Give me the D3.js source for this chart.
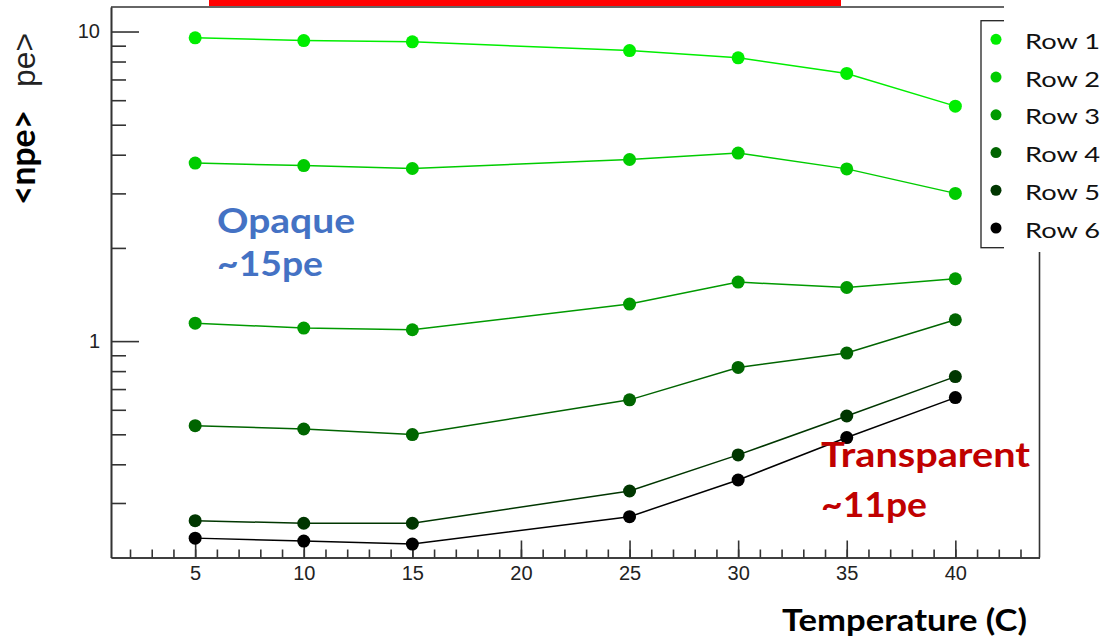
<!DOCTYPE html>
<html>
<head>
<meta charset="utf-8">
<script src="https://cdn.jsdelivr.net/npm/d3@7"></script>
<style>
  body { margin: 0; background: #fff; }
  svg { display: block; }
</style>
</head>
<body>
<script>
//Width and height
var w = 1106;
var h = 639;

//Data
var temps = [5, 10, 15, 25, 30, 35, 40];
var row1 = [9.54, 9.35, 9.26, 8.68, 8.22, 7.32, 5.74];
var row2 = [3.76, 3.69, 3.61, 3.86, 4.05, 3.60, 3.00];
var row3 = [1.143, 1.102, 1.088, 1.317, 1.551, 1.490, 1.590];
var row4 = [0.533, 0.520, 0.499, 0.646, 0.822, 0.915, 1.172];
var row5 = [0.263, 0.258, 0.258, 0.328, 0.429, 0.573, 0.768];
var row6 = [0.231, 0.226, 0.221, 0.271, 0.356, 0.488, 0.657];
var rowNames = ["Row 1", "Row 2", "Row 3", "Row 4", "Row 5", "Row 6"];
var xTickLabels = [5, 10, 15, 20, 25, 30, 35, 40];
var yTickLabels = [1, 10];

//Colours, one per row
var rowColors = ["#00ee00", "#00cc00", "#009a00", "#006400", "#003600", "#000000"];

var rows = [row1, row2, row3, row4, row5, row6].map(function(vals, i) {
  return {
    name: rowNames[i],
    values: temps.map(function(t, j) { return { t: t, v: vals[j] }; })
  };
});

//Scales
var xScale = d3.scaleLinear().domain([1.125, 43.875]).range([111, 1039.5]);
var yScale = d3.scaleLog().domain([0.2, 12]).range([557.5, 7]);
var color = d3.scaleOrdinal().domain(rowNames).range(rowColors);

var svg = d3.select("body")
  .append("svg")
  .attr("width", w)
  .attr("height", h);

//Red strip at the top of the slide
svg.append("rect")
  .attr("x", 209).attr("y", 0)
  .attr("width", 632).attr("height", 6)
  .attr("fill", "#ff0000");

var axisColor = "#333";
var tickFont = "'Liberation Sans', Arial, sans-serif";

//X axis: minor ticks, then labelled major ticks
var xMinor = d3.axisBottom(xScale)
  .tickValues(d3.range(2, 44))
  .tickSize(-8)
  .tickSizeOuter(0)
  .tickFormat("");
var xMajor = d3.axisBottom(xScale)
  .tickValues(xTickLabels)
  .tickSize(-17)
  .tickSizeOuter(0)
  .tickPadding(8)
  .tickFormat(d3.format("d"));

var gx = svg.append("g").attr("transform", "translate(0," + yScale.range()[0] + ")");
gx.append("g").call(xMinor);
gx.append("g").call(xMajor);

//Y axis (log): minor ticks, then labelled decades
var yMinorVals = [0.3, 0.4, 0.5, 0.6, 0.7, 0.8, 0.9, 2, 3, 4, 5, 6, 7, 8, 9];
var yMinor = d3.axisLeft(yScale)
  .tickValues(yMinorVals)
  .tickSize(-15)
  .tickSizeOuter(0)
  .tickFormat("");
var yMajor = d3.axisLeft(yScale)
  .tickValues(yTickLabels)
  .tickSize(-28)
  .tickSizeOuter(0)
  .tickPadding(11)
  .tickFormat(d3.format("d"));

var gy = svg.append("g").attr("transform", "translate(" + xScale.range()[0] + ",0)");
gy.append("g").call(yMinor);
gy.append("g").call(yMajor);

svg.selectAll(".domain, .tick line")
  .attr("stroke", axisColor)
  .attr("stroke-width", 1.6);
svg.selectAll(".tick text")
  .attr("fill", "#222")
  .attr("font-family", tickFont)
  .attr("font-size", 20);

//Frame top and right
svg.append("line")
  .attr("x1", xScale.range()[0]).attr("x2", xScale.range()[1])
  .attr("y1", yScale.range()[1]).attr("y2", yScale.range()[1])
  .attr("stroke", axisColor).attr("stroke-width", 1.6);
svg.append("line")
  .attr("x1", xScale.range()[1]).attr("x2", xScale.range()[1])
  .attr("y1", yScale.range()[0]).attr("y2", yScale.range()[1])
  .attr("stroke", axisColor).attr("stroke-width", 1.6);

//Line generator
var line = d3.line()
  .x(function(d) { return xScale(d.t); })
  .y(function(d) { return yScale(d.v); });

var series = svg.selectAll(".series")
  .data(rows)
  .enter()
  .append("g")
  .attr("class", "series");

series.append("path")
  .attr("d", function(d) { return line(d.values); })
  .attr("fill", "none")
  .attr("stroke", function(d) { return color(d.name); })
  .attr("stroke-width", 1.5);

series.selectAll("circle")
  .data(function(d) { return d.values.map(function(p) { return { t: p.t, v: p.v, name: d.name }; }); })
  .enter()
  .append("circle")
  .attr("cx", function(d) { return xScale(d.t); })
  .attr("cy", function(d) { return yScale(d.v); })
  .attr("r", 6.5)
  .attr("fill", function(d) { return color(d.name); });

//Legend box (its right side is hidden by the slide's text box)
svg.append("rect")
  .attr("x", 981).attr("y", 20.7)
  .attr("width", 200).attr("height", 227)
  .attr("fill", "#fff")
  .attr("stroke", "#222").attr("stroke-width", 1.3);
svg.append("rect")
  .attr("x", 1004).attr("y", 0)
  .attr("width", 102).attr("height", 252)
  .attr("fill", "#fff");

var legendY = d3.scaleLinear().domain([0, rowNames.length - 1]).range([39.3, 228]);
var slideFont = "Lato, 'Open Sans', sans-serif";

var legend = svg.selectAll(".legend")
  .data(rowNames)
  .enter()
  .append("g")
  .attr("class", "legend")
  .attr("transform", function(d, i) { return "translate(0," + legendY(i) + ")"; });

legend.append("circle")
  .attr("cx", 996)
  .attr("r", 5.5)
  .attr("fill", function(d) { return color(d); });

legend.append("text")
  .attr("x", 1025)
  .attr("y", 9.7)
  .attr("fill", "#111")
  .attr("textLength", 75)
  .attr("lengthAdjust", "spacingAndGlyphs")
  .style("font-family", slideFont)
  .style("font-size", "22px")
  .text(function(d) { return d; });

//Slide texts
function slideText(txt, x, y, size, width, fill) {
  return svg.append("text")
    .attr("x", x).attr("y", y)
    .attr("fill", fill)
    .attr("textLength", width)
    .attr("lengthAdjust", "spacingAndGlyphs")
    .style("font-family", slideFont)
    .style("font-weight", "bold")
    .style("font-size", size + "px")
    .text(txt);
}

slideText("Temperature (C)", 782, 631, 31, 245, "#000");
slideText("Opaque", 217, 233, 34, 138, "#4472C4");
slideText("~15pe", 217, 276, 34, 106, "#4472C4");
slideText("Transparent", 821, 467, 35, 209, "#C00000");
slideText("~11pe", 821, 517, 35, 106, "#C00000");

//Y title, rotated
svg.append("text")
  .attr("transform", "translate(35,205) rotate(-90)")
  .attr("textLength", 95)
  .attr("lengthAdjust", "spacingAndGlyphs")
  .attr("fill", "#000")
  .style("font-family", slideFont)
  .style("font-weight", "bold")
  .style("font-size", "35px")
  .text("<npe>");

svg.append("text")
  .attr("transform", "translate(35,87) rotate(-90)")
  .attr("textLength", 54)
  .attr("lengthAdjust", "spacingAndGlyphs")
  .attr("fill", "#222")
  .style("font-family", tickFont)
  .style("font-size", "32px")
  .text("pe>");
</script>
</body>
</html>
